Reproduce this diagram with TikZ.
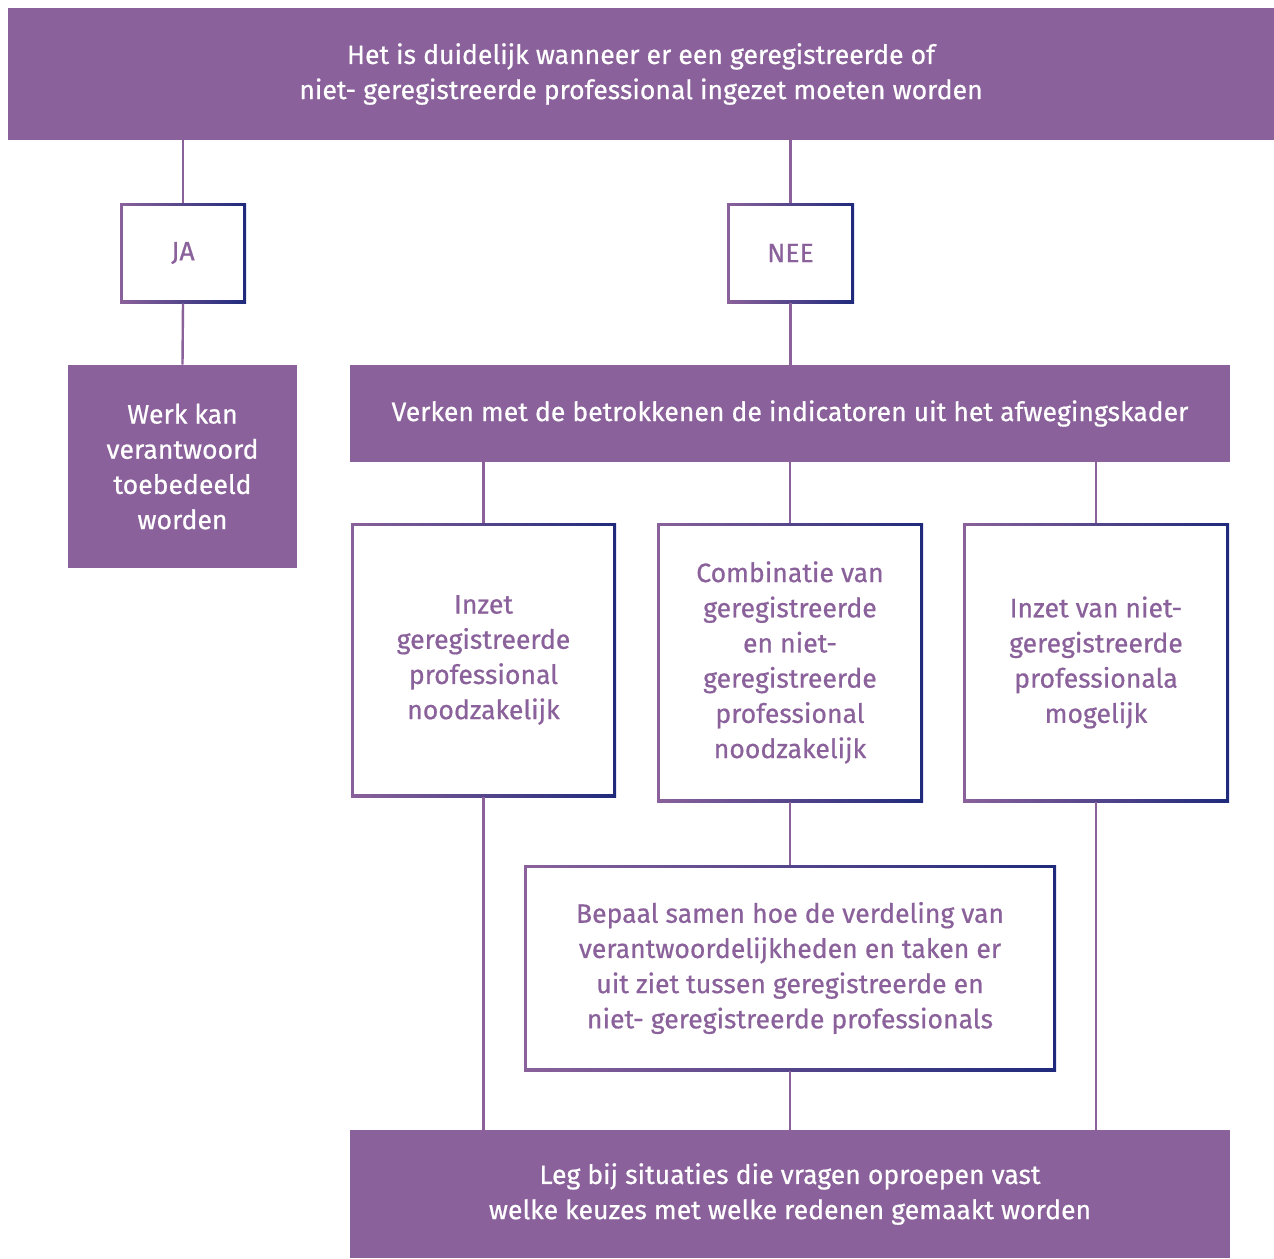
\documentclass[tikz,border=0pt]{standalone}
\usepackage{fontspec}
\setmainfont{Fira Sans}
\newfontfamily\schemafont{Fira Sans}[FakeBold=0.6]
\definecolor{lila}{HTML}{8A619A}
\definecolor{navy}{HTML}{1F2A7C}

\begin{document}
\begin{tikzpicture}[x=0.5pt, y=-0.5pt,
  every node/.style = {shape=rectangle, inner sep=0pt, align=center,
    font=\schemafont\fontsize{13.3}{17.6}\selectfont},
  fullbox/.style = {fill=lila, text=white},
  linebox/.style = {left color=lila, right color=navy, text=lila,
    path picture={\fill[white]
      ([shift={(1.4pt,1.4pt)}]path picture bounding box.south west) rectangle
      ([shift={(-1.4pt,-1.4pt)}]path picture bounding box.north east);}},
  link/.style = {draw=lila, line width=1.2pt}]
  \useasboundingbox (0,0) rectangle (1274,1258);
  \node[fullbox, minimum width=633pt, minimum height=66pt] (vraag) at (641,74)
    {Het is duidelijk wanneer er een geregistreerde of\\
     niet- geregistreerde professional ingezet moeten worden};
  \node[linebox, minimum width=63pt, minimum height=50pt] (ja) at (183,253) {JA};
  \node[linebox, minimum width=63.5pt, minimum height=50pt] (nee) at (790.5,253) {NEE};
  \node[fullbox, minimum width=114.5pt, minimum height=101.5pt] (werk) at (182.5,466.5)
    {Werk kan\\ verantwoord\\ toebedeeld\\ worden};
  \node[fullbox, minimum width=440pt, minimum height=48.5pt] (verken) at (790,413.5)
    {Verken met de betrokkenen de indicatoren uit het afwegingskader};
  \node[linebox, minimum width=132.5pt, minimum height=137pt] (inzet) at (483.5,660)
    {Inzet\\ geregistreerde\\ professional\\ noodzakelijk};
  \node[linebox, minimum width=133pt, minimum height=139.5pt] (combi) at (790,662.5)
    {Combinatie van\\ geregistreerde\\ en niet-\\ geregistreerde\\ professional\\ noodzakelijk};
  \node[linebox, minimum width=133pt, minimum height=139.5pt] (nietreg) at (1096,662.5)
    {Inzet van niet-\\ geregistreerde\\ professionala\\ mogelijk};
  \node[linebox, minimum width=266pt, minimum height=103pt] (bepaal) at (790,968)
    {Bepaal samen hoe de verdeling van\\ verantwoordelijkheden en taken er\\
     uit ziet tussen geregistreerde en\\ niet- geregistreerde professionals};
  \node[fullbox, minimum width=440pt, minimum height=64pt] (vast) at (790,1194)
    {Leg bij situaties die vragen oproepen vast\\
     welke keuzes met welke redenen gemaakt worden};

  \draw[link] (vraag.south -| ja.north) -- (ja.north);
  \draw[link] (ja.south) -- (werk.north);
  \draw[link] (vraag.south -| nee.north) -- (nee.north);
  \draw[link] (nee.south) -- (verken.north -| nee.south);
  \draw[link] (verken.south -| inzet.north) -- (inzet.north);
  \draw[link] (verken.south -| combi.north) -- (combi.north);
  \draw[link] (verken.south -| nietreg.north) -- (nietreg.north);
  \draw[link] (inzet.south) -- (vast.north -| inzet.south);
  \draw[link] (combi.south) -- (bepaal.north);
  \draw[link] (bepaal.south) -- (vast.north -| bepaal.south);
  \draw[link] (nietreg.south) -- (vast.north -| nietreg.south);
\end{tikzpicture}
\end{document}
